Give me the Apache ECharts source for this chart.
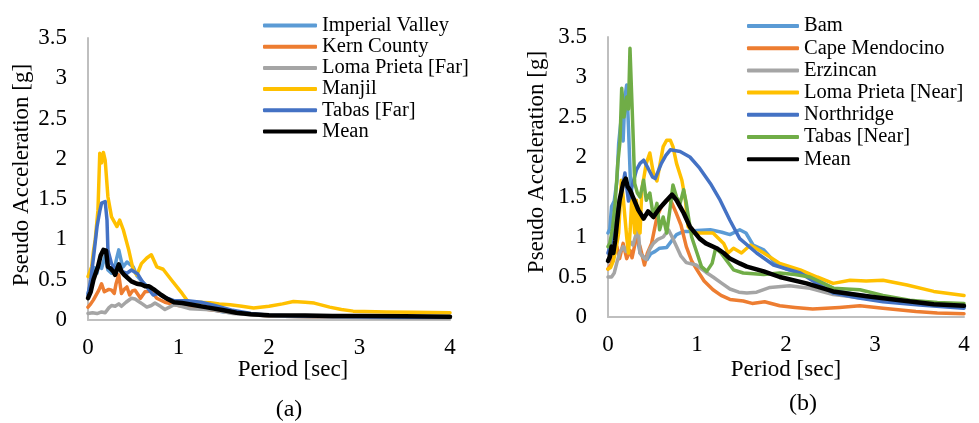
<!DOCTYPE html>
<html>
<head>
    <meta charset="utf-8" />
    <title>Response spectra</title>
    <script src="https://cdn.jsdelivr.net/npm/echarts@6.0.0/dist/echarts.min.js"></script>
    <style>
        html, body { margin: 0; padding: 0; background: #fff; }
    </style>
</head>
<body>
<div id="main" style="width: 979px; height: 423px"></div>
<script type="text/javascript">
    // period [sec], pseudo acceleration [g]
    var farNames = ['Imperial Valley', 'Kern County', 'Loma Prieta [Far]', 'Manjil', 'Tabas [Far]', 'Mean'];
    var nearNames = ['Bam', 'Cape Mendocino', 'Erzincan', 'Loma Prieta [Near]', 'Northridge', 'Tabas [Near]', 'Mean'];
    var yTicks = ['0', '0.5', '1', '1.5', '2', '2.5', '3', '3.5'];

    // (a) far-field records
    var imperialValley = [[0,0.33],[0.04,0.5],[0.07,0.65],[0.1,0.58],[0.12,0.7],[0.15,0.64],[0.19,0.8],[0.22,0.62],[0.26,0.58],[0.29,0.63],[0.32,0.78],[0.34,0.87],[0.37,0.72],[0.39,0.66],[0.43,0.72],[0.5,0.66],[0.54,0.55],[0.6,0.47],[0.69,0.39],[0.76,0.34],[0.83,0.29],[0.92,0.24],[0.98,0.22],[1.1,0.18],[1.2,0.15],[1.35,0.13],[1.5,0.1],[1.8,0.07],[2,0.05],[2.5,0.04],[3,0.035],[3.5,0.03],[4,0.03]];
    var kernCounty = [[0,0.16],[0.03,0.2],[0.06,0.25],[0.1,0.33],[0.12,0.37],[0.15,0.45],[0.18,0.35],[0.2,0.33],[0.23,0.38],[0.26,0.37],[0.29,0.33],[0.31,0.45],[0.34,0.56],[0.37,0.33],[0.4,0.38],[0.43,0.41],[0.46,0.31],[0.49,0.36],[0.52,0.37],[0.58,0.27],[0.63,0.35],[0.7,0.36],[0.76,0.27],[0.85,0.22],[1.0,0.18],[1.2,0.15],[1.4,0.12],[1.7,0.08],[2,0.05],[2.5,0.04],[3,0.035],[4,0.03]];
    var lomaPrietaFar = [[0,0.08],[0.05,0.09],[0.1,0.08],[0.15,0.1],[0.19,0.09],[0.23,0.15],[0.26,0.18],[0.3,0.17],[0.34,0.2],[0.37,0.17],[0.42,0.22],[0.48,0.27],[0.52,0.26],[0.56,0.23],[0.6,0.2],[0.65,0.16],[0.7,0.18],[0.74,0.21],[0.8,0.17],[0.85,0.13],[0.9,0.16],[0.95,0.19],[1.0,0.18],[1.13,0.14],[1.3,0.13],[1.42,0.12],[1.6,0.08],[2,0.05],[2.5,0.04],[3,0.03],[4,0.025]];
    var manjil = [[0,0.54],[0.04,0.66],[0.06,0.85],[0.08,1.0],[0.11,1.36],[0.13,2.07],[0.15,1.95],[0.17,2.08],[0.19,1.98],[0.22,1.53],[0.26,1.28],[0.32,1.16],[0.35,1.24],[0.39,1.12],[0.45,0.87],[0.5,0.62],[0.54,0.56],[0.59,0.7],[0.65,0.77],[0.7,0.81],[0.76,0.66],[0.83,0.63],[0.92,0.5],[1.04,0.33],[1.11,0.22],[1.2,0.22],[1.35,0.215],[1.45,0.2],[1.57,0.19],[1.7,0.17],[1.83,0.15],[2.0,0.17],[2.15,0.2],[2.27,0.23],[2.4,0.22],[2.5,0.21],[2.67,0.16],[2.8,0.13],[2.93,0.11],[3.3,0.1],[3.6,0.095],[4,0.09]];
    var tabasFar = [[0,0.31],[0.03,0.5],[0.06,0.77],[0.1,1.16],[0.13,1.35],[0.15,1.45],[0.19,1.47],[0.21,1.24],[0.22,0.87],[0.26,0.7],[0.3,0.63],[0.34,0.68],[0.38,0.6],[0.43,0.58],[0.48,0.62],[0.55,0.57],[0.6,0.48],[0.65,0.41],[0.72,0.31],[0.77,0.33],[0.85,0.28],[0.95,0.24],[1.1,0.24],[1.25,0.22],[1.4,0.18],[1.6,0.12],[1.8,0.08],[2,0.06],[2.5,0.045],[3,0.04],[3.5,0.035],[4,0.035]];
    var meanFar = [[0,0.27],[0.03,0.35],[0.06,0.5],[0.09,0.6],[0.11,0.66],[0.14,0.8],[0.17,0.87],[0.2,0.86],[0.22,0.66],[0.25,0.64],[0.28,0.6],[0.3,0.56],[0.34,0.69],[0.37,0.6],[0.4,0.56],[0.43,0.53],[0.48,0.48],[0.54,0.45],[0.59,0.44],[0.63,0.42],[0.67,0.42],[0.7,0.4],[0.74,0.37],[0.81,0.31],[0.88,0.26],[0.95,0.22],[1.04,0.21],[1.15,0.19],[1.3,0.16],[1.5,0.12],[1.64,0.09],[1.8,0.07],[2.0,0.06],[2.4,0.055],[2.7,0.05],[3.0,0.05],[3.5,0.045],[4,0.04]];

    // (b) near-field records
    var bam = [[0,1.05],[0.02,1.1],[0.04,1.38],[0.07,1.45],[0.1,1.7],[0.12,2.17],[0.15,2.5],[0.17,2.2],[0.19,2.75],[0.21,2.9],[0.23,2.38],[0.25,1.75],[0.28,1.4],[0.32,1.05],[0.36,0.8],[0.4,0.75],[0.44,0.72],[0.48,0.79],[0.53,0.82],[0.58,0.86],[0.66,0.87],[0.72,0.96],[0.77,1.03],[0.85,1.07],[0.9,1.07],[1.0,1.08],[1.15,1.09],[1.28,1.06],[1.37,1.03],[1.48,1.09],[1.55,1.05],[1.63,0.9],[1.75,0.84],[1.9,0.65],[2.0,0.6],[2.23,0.53],[2.42,0.42],[2.6,0.32],[2.8,0.28],[3.0,0.25],[3.5,0.18],[4,0.12]];
    var capeMendocino = [[0,0.6],[0.04,0.67],[0.07,0.8],[0.1,0.88],[0.13,0.73],[0.17,0.92],[0.21,0.73],[0.25,0.83],[0.27,0.74],[0.32,1.0],[0.36,0.88],[0.41,0.65],[0.44,0.79],[0.49,0.92],[0.55,1.25],[0.6,1.38],[0.66,1.46],[0.7,1.47],[0.77,1.29],[0.82,1.15],[0.88,0.88],[0.94,0.7],[1.0,0.59],[1.08,0.45],[1.18,0.34],[1.27,0.27],[1.37,0.22],[1.52,0.2],[1.62,0.17],[1.76,0.19],[1.93,0.14],[2.1,0.12],[2.3,0.1],[2.6,0.12],[2.83,0.14],[3.09,0.11],[3.46,0.07],[3.7,0.05],[4,0.04]];
    var erzincan = [[0,0.5],[0.04,0.5],[0.07,0.55],[0.1,0.68],[0.13,0.8],[0.17,0.88],[0.2,0.82],[0.24,0.95],[0.28,0.9],[0.32,1.05],[0.34,1.09],[0.36,0.8],[0.4,0.74],[0.43,0.72],[0.47,0.85],[0.51,0.92],[0.56,0.97],[0.62,1.0],[0.68,1.09],[0.72,1.0],[0.77,0.88],[0.82,0.76],[0.88,0.68],[0.99,0.65],[1.1,0.56],[1.18,0.5],[1.28,0.42],[1.37,0.35],[1.47,0.31],[1.56,0.3],[1.67,0.31],[1.82,0.37],[2.04,0.39],[2.27,0.36],[2.53,0.28],[3.0,0.22],[3.5,0.18],[4,0.14]];
    var lomaPrietaNear = [[0,0.6],[0.03,0.62],[0.06,0.7],[0.09,0.85],[0.12,1.05],[0.15,1.71],[0.17,1.5],[0.19,1.25],[0.21,1.0],[0.23,0.8],[0.25,1.1],[0.27,1.54],[0.3,1.05],[0.32,1.46],[0.34,1.1],[0.36,1.05],[0.38,1.59],[0.43,1.92],[0.47,2.05],[0.51,1.8],[0.55,1.7],[0.57,1.69],[0.62,2.13],[0.66,2.21],[0.7,2.21],[0.73,2.13],[0.77,1.92],[0.83,1.71],[0.87,1.46],[0.9,1.13],[0.96,1.05],[1.07,1.05],[1.18,1.05],[1.3,0.92],[1.35,0.8],[1.41,0.86],[1.5,0.8],[1.6,0.9],[1.75,0.8],[1.93,0.67],[2.16,0.59],[2.35,0.5],[2.53,0.42],[2.72,0.46],[2.9,0.45],[3.09,0.46],[3.36,0.4],[3.66,0.32],[4,0.27]];
    var northridge = [[0,0.8],[0.04,0.95],[0.08,1.2],[0.12,1.4],[0.15,1.55],[0.19,1.8],[0.23,1.45],[0.27,1.63],[0.32,1.84],[0.36,1.92],[0.4,1.96],[0.45,1.86],[0.5,1.75],[0.53,1.73],[0.6,1.92],[0.65,2.02],[0.7,2.09],[0.81,2.07],[0.92,2.0],[1.03,1.86],[1.15,1.67],[1.26,1.46],[1.37,1.21],[1.48,0.98],[1.67,0.8],[1.86,0.65],[2.16,0.55],[2.35,0.42],[2.53,0.3],[2.8,0.24],[3.09,0.19],[3.5,0.15],[4,0.11]];
    var tabasNear = [[0,0.88],[0.02,0.92],[0.05,1.1],[0.08,1.42],[0.1,1.75],[0.11,1.92],[0.135,2.2],[0.154,2.86],[0.18,2.5],[0.21,2.75],[0.23,2.6],[0.247,3.36],[0.265,2.8],[0.28,2.34],[0.3,1.67],[0.33,1.55],[0.36,1.5],[0.4,1.71],[0.43,1.46],[0.47,1.55],[0.51,1.25],[0.55,1.42],[0.58,1.09],[0.62,1.25],[0.66,1.05],[0.7,1.38],[0.73,1.65],[0.77,1.5],[0.81,1.42],[0.85,1.59],[0.88,1.42],[0.94,1.0],[1.0,0.8],[1.05,0.63],[1.11,0.57],[1.17,0.67],[1.21,0.86],[1.27,0.8],[1.33,0.71],[1.41,0.59],[1.52,0.55],[1.75,0.53],[1.93,0.55],[2.1,0.53],[2.27,0.5],[2.53,0.36],[2.83,0.34],[3.09,0.27],[3.39,0.21],[3.7,0.18],[4,0.17]];
    var meanNear = [[0,0.7],[0.02,0.75],[0.04,0.88],[0.06,0.8],[0.08,0.95],[0.1,1.17],[0.13,1.46],[0.17,1.67],[0.2,1.73],[0.22,1.63],[0.25,1.58],[0.28,1.5],[0.31,1.42],[0.34,1.34],[0.4,1.23],[0.45,1.32],[0.51,1.25],[0.58,1.36],[0.66,1.46],[0.72,1.53],[0.77,1.46],[0.85,1.3],[0.92,1.13],[1.03,0.98],[1.1,0.92],[1.22,0.86],[1.3,0.8],[1.37,0.73],[1.48,0.67],[1.56,0.63],[1.75,0.57],[1.93,0.5],[2.23,0.42],[2.53,0.32],[2.91,0.26],[3.28,0.21],[3.66,0.16],[4,0.14]];

    var farData = [imperialValley, kernCounty, lomaPrietaFar, manjil, tabasFar, meanFar];
    var nearData = [bam, capeMendocino, erzincan, lomaPrietaNear, northridge, tabasNear, meanNear];
    var farColors = ['#5b9bd5', '#ed7d31', '#a5a5a5', '#ffc000', '#4472c4', '#000000'];
    var nearColors = ['#5b9bd5', '#ed7d31', '#a5a5a5', '#ffc000', '#4472c4', '#70ad47', '#000000'];

    var FONT = 'Liberation Serif, Times New Roman, serif';
    var axisGray = '#bfbfbf';

    function xAx(idx) {
        return {
            type: 'value', gridIndex: idx, min: 0, max: 4, interval: 1,
            axisLine: { show: true, lineStyle: { color: axisGray, width: 2 } },
            axisTick: { show: false },
            splitLine: { show: false },
            axisLabel: { color: '#000', fontFamily: FONT, fontSize: 23, margin: 16 }
        };
    }
    function yAx(idx) {
        return {
            type: 'value', gridIndex: idx, min: 0, max: 3.5, interval: 0.5,
            axisLine: { show: true, lineStyle: { color: axisGray, width: 2 } },
            axisTick: { show: false },
            splitLine: { show: false },
            axisLabel: {
                color: '#000', fontFamily: FONT, fontSize: 23, margin: 21,
                formatter: function (v) { return yTicks[Math.round(v * 2)]; }
            }
        };
    }

    var series = [];
    farNames.forEach(function (n, i) {
        series.push({
            name: n, type: 'line', xAxisIndex: 0, yAxisIndex: 0,
            data: farData[i], symbol: 'none', animation: false,
            lineStyle: { color: farColors[i], width: n === 'Mean' ? 4.5 : 3.5, join: 'round', cap: 'round' },
            itemStyle: { color: farColors[i] }
        });
    });
    nearNames.forEach(function (n, i) {
        series.push({
            name: n === 'Mean' ? 'Mean ' : n, type: 'line', xAxisIndex: 1, yAxisIndex: 1,
            data: nearData[i], symbol: 'none', animation: false,
            lineStyle: { color: nearColors[i], width: n === 'Mean' ? 4.5 : 3.5, join: 'round', cap: 'round' },
            itemStyle: { color: nearColors[i] }
        });
    });

    function txt(s, x, y, size, rot) {
        return {
            type: 'text', x: x, y: y, rotation: rot || 0,
            style: { text: s, font: size + 'px ' + FONT, fill: '#000', textAlign: 'center', textVerticalAlign: 'middle' }
        };
    }

    var myChart = echarts.init(document.getElementById('main'));
    myChart.setOption({
        backgroundColor: '#fff',
        animation: false,
        grid: [
            { left: 88, top: 38, width: 362, height: 282 },
            { left: 608, top: 37, width: 356, height: 280 }
        ],
        xAxis: [xAx(0), xAx(1)],
        yAxis: [yAx(0), yAx(1)],
        legend: [
            {
                data: farNames, orient: 'vertical', left: 258, top: 10,
                icon: 'roundRect', itemWidth: 54, itemHeight: 4, itemGap: 0.2,
                textStyle: { fontFamily: FONT, fontSize: 20.5, color: '#000', lineHeight: 21 }
            },
            {
                data: nearNames.map(function (n) { return n === 'Mean' ? 'Mean ' : n; }),
                orient: 'vertical', left: 742, top: 10,
                icon: 'roundRect', itemWidth: 52, itemHeight: 4, itemGap: 0.2,
                textStyle: { fontFamily: FONT, fontSize: 20.5, color: '#000', lineHeight: 22 }
            }
        ],
        graphic: [
            txt('Pseudo Acceleration [g]', 22, 175, 23, Math.PI / 2),
            txt('Pseudo Acceleration [g]', 537, 162, 23, Math.PI / 2),
            txt('Period [sec]', 293, 370, 23),
            txt('Period [sec]', 786, 370, 23),
            txt('(a)', 289, 410, 24),
            txt('(b)', 803, 404, 24)
        ],
        series: series
    });
</script>
</body>
</html>
